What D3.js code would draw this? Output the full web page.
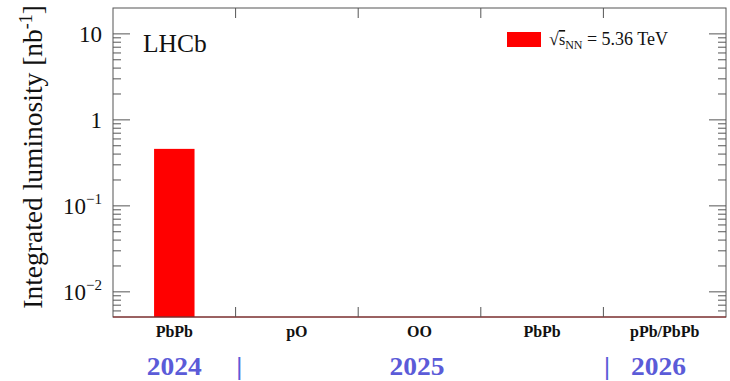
<!DOCTYPE html>
<html>
<head>
<meta charset="utf-8">
<script src="https://cdn.jsdelivr.net/npm/d3@7"></script>
<style>
  body { margin: 0; background: #fff; }
  svg { display: block; }
</style>
</head>
<body>
<div id="chart"></div>
<script>
// data
const categories = ['PbPb', 'pO', 'OO', 'PbPb ', 'pPb/PbPb'];
const luminosity = [0.46, null, null, null, null];
const yearLabels = [
    { text: '2024', at: 0.5 },
    { text: '|', at: 1.03 },
    { text: '2025', at: 2.48 },
    { text: '|', at: 4.03 },
    { text: '2026', at: 4.45 }
];
const yDecades = [0.01, 0.1, 1, 10];

const width = 730, height = 381;
const margin = { top: 8, right: 4, bottom: 64, left: 113 };
const plotW = width - margin.left - margin.right;
const plotH = height - margin.top - margin.bottom;
const serif = "'Liberation Serif'";

const svg = d3.select('#chart').append('svg')
    .attr('width', width)
    .attr('height', height)
    .style('font-family', serif);

const g = svg.append('g')
    .attr('transform', 'translate(' + margin.left + ',' + margin.top + ')');

const x = d3.scaleLinear().domain([0, categories.length]).range([0, plotW]);
const y = d3.scaleLog().domain([0.0051, 20]).range([plotH, 0]);

// bars (ROOT style: width 0.33, offset 0.33)
g.selectAll('.bar')
    .data(luminosity.map((v, i) => ({ v, i })).filter(d => d.v != null))
    .enter()
    .append('rect')
    .attr('class', 'bar')
    .attr('x', d => x(d.i + 0.335))
    .attr('width', d => x(d.i + 0.665) - x(d.i + 0.335))
    .attr('y', d => y(d.v))
    .attr('height', d => plotH - y(d.v))
    .attr('fill', '#ff0000');

// frame
const frameColor = '#555';
g.append('rect')
    .attr('x', 0).attr('y', 0)
    .attr('width', plotW).attr('height', plotH)
    .attr('fill', 'none')
    .attr('stroke', frameColor)
    .attr('stroke-width', 1);
g.append('line')
    .attr('x1', 0).attr('x2', plotW)
    .attr('y1', plotH).attr('y2', plotH)
    .attr('stroke', '#8b1a1a')
    .attr('stroke-width', 1.2);

// y ticks, both sides
const minorTicks = [];
for (let e = -3; e <= 1; e++) {
    for (let k = 2; k <= 9; k++) {
        const v = k * Math.pow(10, e);
        if (v > y.domain()[0] && v < y.domain()[1]) minorTicks.push(v);
    }
}
[0, plotW].forEach((x0, side) => {
    const dir = side === 0 ? 1 : -1;
    g.append('g').selectAll('line')
        .data(yDecades)
        .enter().append('line')
        .attr('x1', x0).attr('x2', x0 + dir * 17)
        .attr('y1', d => y(d)).attr('y2', d => y(d))
        .attr('stroke', frameColor);
    g.append('g').selectAll('line')
        .data(minorTicks)
        .enter().append('line')
        .attr('x1', x0).attr('x2', x0 + dir * 8)
        .attr('y1', d => y(d)).attr('y2', d => y(d))
        .attr('stroke', frameColor);
});

// x ticks at bin edges, top and bottom
const edges = d3.range(1, categories.length);
g.append('g').selectAll('line')
    .data(edges).enter().append('line')
    .attr('x1', d => x(d)).attr('x2', d => x(d))
    .attr('y1', plotH).attr('y2', plotH - 10)
    .attr('stroke', frameColor);
g.append('g').selectAll('line')
    .data(edges).enter().append('line')
    .attr('x1', d => x(d)).attr('x2', d => x(d))
    .attr('y1', 0).attr('y2', 10)
    .attr('stroke', frameColor);

// y tick labels
const yLab = g.append('g').selectAll('text')
    .data(yDecades).enter().append('text')
    .attr('x', -11)
    .attr('y', d => y(d) + 8)
    .attr('text-anchor', 'end')
    .style('font-family', serif)
    .style('font-size', '23px')
    .style('fill', '#111');
yLab.each(function(d) {
    const t = d3.select(this);
    const e = Math.round(Math.log10(d));
    if (e === 0) t.text('1');
    else if (e === 1) t.text('10');
    else {
        t.append('tspan').text('10');
        t.append('tspan').attr('dy', -10).style('font-size', '15px').text('\u2212' + (-e));
    }
});

// category labels
g.append('g').selectAll('text')
    .data(categories).enter().append('text')
    .attr('x', (d, i) => x(i + 0.5))
    .attr('y', plotH + 20)
    .attr('text-anchor', 'middle')
    .style('font-family', serif)
    .style('font-size', '16px')
    .style('font-weight', 'bold')
    .style('fill', '#111')
    .text(d => d.trim());

// year labels
g.append('g').selectAll('text')
    .data(yearLabels).enter().append('text')
    .attr('transform', d => 'translate(' + x(d.at) + ',' + (plotH + 58) + ') scale(1.1,1)')
    .attr('text-anchor', 'middle')
    .style('font-family', serif)
    .style('font-size', '25px')
    .style('font-weight', 'bold')
    .style('fill', '#5b5bd8')
    .text(d => d.text);

// y axis title
const yt = svg.append('text')
    .attr('transform', 'translate(42,5) rotate(-90)')
    .attr('text-anchor', 'end')
    .style('font-family', serif)
    .style('font-size', '27.5px')
    .style('fill', '#111');
yt.append('tspan').text('Integrated luminosity [nb');
yt.append('tspan').attr('dy', -10).style('font-size', '18px').text('-1');
yt.append('tspan').attr('dy', 10).text(']');

// LHCb
g.append('text')
    .attr('x', 30).attr('y', 44)
    .style('font-family', serif)
    .style('font-size', '25.5px')
    .style('fill', '#111')
    .text('LHCb');

// legend
const leg = g.append('g').attr('transform', 'translate(' + (507 - margin.left) + ',' + (32 - margin.top) + ')');
leg.append('rect')
    .attr('width', 34).attr('height', 15)
    .attr('fill', '#ff0000');
const lt = leg.append('text')
    .attr('x', 42).attr('y', 13)
    .style('font-family', serif)
    .style('font-size', '18px')
    .style('fill', '#111');
lt.append('tspan').text('\u221A');
lt.append('tspan').style('text-decoration', 'overline').style('font-size', '16px').text('s');
lt.append('tspan').attr('dy', 4).style('font-size', '12px').text('NN');
lt.append('tspan').attr('dy', -4).text(' = 5.36 TeV');
</script>
</body>
</html>
